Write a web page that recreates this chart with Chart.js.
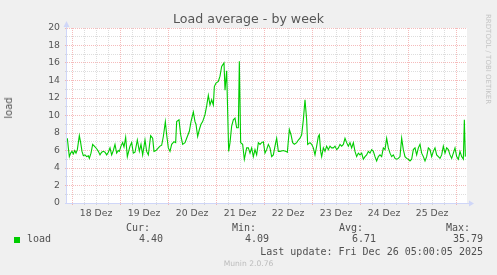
<!DOCTYPE html>
<html><head><meta charset="utf-8">
<script src="https://cdn.jsdelivr.net/npm/chart.js@4"></script>
<style>
html,body{margin:0;padding:0;background:#f0f0f0;}
#wrap{position:relative;width:497px;height:275px;overflow:hidden;background:#f0f0f0;}
canvas{position:absolute;left:0;top:0;}
.m{position:absolute;white-space:pre;font-family:"DejaVu Sans Mono",monospace;font-size:10px;line-height:12px;color:#505050;}
</style></head><body>
<div id="wrap">
<canvas id="c" width="497" height="275"></canvas>
<div style="position:absolute;left:0;width:497px;top:11px;text-align:center;font-family:'DejaVu Sans';font-size:12.6px;line-height:16px;color:#555;">Load average - by week</div>
<div style="position:absolute;left:9px;top:108px;transform:translate(-50%,-50%) rotate(-90deg);font-family:'DejaVu Sans';font-size:10px;line-height:12px;color:#555;white-space:nowrap;">load</div>
<div style="position:absolute;left:483px;top:14px;writing-mode:vertical-rl;font-family:'DejaVu Sans';font-size:7px;line-height:9px;color:#c4c4c4;white-space:nowrap;">RRDTOOL / TOBI OETIKER</div>
<div class="m" style="right:347px;top:222px;">Cur:</div>
<div class="m" style="right:241px;top:222px;">Min:</div>
<div class="m" style="right:134px;top:222px;">Avg:</div>
<div class="m" style="right:27px;top:222px;">Max:</div>
<div style="position:absolute;left:14px;top:237px;width:6px;height:6px;background:#00cc00;"></div>
<div class="m" style="left:27px;top:233px;">load</div>
<div class="m" style="right:334px;top:233px;">4.40</div>
<div class="m" style="right:228px;top:233px;">4.09</div>
<div class="m" style="right:121px;top:233px;">6.71</div>
<div class="m" style="right:14px;top:233px;">35.79</div>
<div class="m" style="right:14px;top:246px;">Last update: Fri Dec 26 05:00:05 2025</div>
<div style="position:absolute;left:0;width:497px;top:259px;text-align:center;font-family:'DejaVu Sans';font-size:7.6px;line-height:10px;color:#bcbcbc;">Munin 2.0.76</div>
</div>
<script>
// hours since 18 Dez 00:00
const hours = [-2.33,-1.83,-1.33,-0.67,0,0.67,1.33,2,2.67,3.67,4.33,5,5.67,6.5,7.33,8.17,8.67,9.5,10.33,11.17,12.33,13.17,14,14.83,15.67,16.5,17.33,18.17,19,19.83,20.67,21.5,22.33,23.17,23.67,24.5,25.33,26,26.83,27.67,28.33,29,29.83,30.67,31.5,32.67,33.67,34.5,35.33,36.5,37.33,38.17,39.33,40.33,41,42,43.17,44,44.83,45.67,46.67,47.33,48.17,49,49.83,51,51.83,52.33,53.5,54.33,55.33,56.5,57.33,58.67,59.5,60.67,61.5,62,62.83,63.67,64.5,65.33,66.5,67.33,68.17,69,69.83,70.67,71.17,72,73.17,74,74.83,76,76.5,77.33,78.33,79,79.83,80.67,81.5,82.33,83.17,83.67,84.33,85.33,86.17,87.33,88.17,89,89.83,90.67,91.5,92.33,93.17,94,94.83,95.67,96.5,97.33,98.17,99,99.83,100.67,101.5,102.33,103.17,104,105.67,107,107.67,108.67,109.5,110.33,111.17,112.33,113.17,114,114.83,115.67,116.5,117.33,117.83,119,119.83,120.67,121.5,122.33,123.17,123.67,124.33,124.83,125.67,126.5,127.33,128.17,129,129.83,130.67,131.5,132.33,133.17,134,134.83,135.67,136.5,137.33,138.17,139,139.83,140.67,141.5,142.33,143.17,144,144.83,145.67,146.5,147.33,148.17,149,149.83,150.67,151.5,152.33,153.17,154,154.83,155.67,156.5,157.33,158.17,159,159.83,160.67,161.5,162.33,163.17,164,164.83,165.67,166.5,167.33,168.17,169,169.83,170.67,171.5,172.33,173.17,174,174.83,175.67,176.5,177.33,178.17,179,179.83,180.67,181.5,182.33,183.17,184,184.83,185.67,186.5,187.33,188.17,189,189.83,190.67,191.5,192.33,193.17,194,194.83,195.67,196.17,196.67];
const load = [7.4,6.3,5.3,5.7,5.9,5.6,6.0,5.7,6.1,7.7,6.9,5.9,5.4,5.5,5.3,5.4,5.1,5.7,6.7,6.5,6.2,5.9,5.5,5.8,5.9,5.8,5.5,5.8,6.3,5.5,6.0,6.7,5.7,6.0,5.9,6.5,6.9,6.4,7.5,5.3,5.9,6.5,6.9,5.7,5.8,7.2,5.9,6.7,5.5,7.2,5.9,5.5,7.7,7.4,5.9,6.0,6.3,6.5,6.6,7.6,9.3,7.8,6.3,5.9,6.7,7.0,6.9,9.3,9.5,7.8,6.7,6.9,7.4,8.2,9.3,10.4,9.3,9.0,7.6,8.4,9.0,9.3,10.1,11.1,12.3,11.2,11.8,11.2,13.3,13.7,13.9,14.5,15.6,16.0,12.9,15.1,5.9,6.9,8.8,9.5,9.7,8.6,8.6,16.2,6.9,6.7,5.0,6.3,6.3,5.7,6.3,5.3,6.1,5.5,6.9,6.7,6.9,7.0,5.7,6.1,6.7,6.3,5.3,5.5,6.5,7.4,5.9,5.9,6.0,5.9,5.8,8.4,7.8,6.9,6.7,6.9,7.2,7.4,7.8,9.5,11.8,9.5,6.7,6.9,6.7,6.3,5.5,6.5,7.6,7.8,5.9,5.3,6.3,5.9,6.5,6.1,6.5,6.3,6.3,6.5,6.1,6.3,6.7,6.5,6.7,7.4,6.9,6.5,6.9,6.3,6.9,5.9,5.3,5.7,5.5,5.7,5.0,5.3,5.5,5.9,5.7,6.1,5.9,5.3,4.8,5.3,5.5,5.3,6.3,6.1,7.4,6.3,5.7,5.3,5.5,5.1,5.0,5.1,5.3,7.4,6.1,5.3,5.1,5.0,4.8,5.0,6.1,6.3,5.5,6.3,6.7,5.7,5.3,4.8,5.3,6.3,6.1,5.3,5.9,6.3,5.5,5.3,5.1,5.5,6.5,5.7,6.3,6.1,5.5,5.1,5.7,6.3,5.3,5.0,5.9,5.3,5.0,9.5,5.3];
const dayLabels = ['18 Dez','19 Dez','20 Dez','21 Dez','22 Dez','23 Dez','24 Dez','25 Dez'];
const yTickValues = [0,1,2,3,4,5,6,7,8,9,10,11,12,13,14,15,16,17,18,19,20];

const MGRID = 'rgba(235,120,120,0.5)';
const GRID = 'rgba(175,175,175,0.42)';
const AXIS = '#cfd6f8';

const bgPlugin = {
  id:'bg',
  beforeDraw(chart){
    const {ctx, chartArea:a} = chart;
    ctx.save(); ctx.fillStyle='#ffffff';
    ctx.fillRect(a.left, a.top, a.right-a.left, a.bottom-a.top);
    ctx.restore();
  },
  afterDraw(chart){
    const {ctx, chartArea:a} = chart;
    ctx.save();
    ctx.strokeStyle = AXIS; ctx.fillStyle = AXIS; ctx.lineWidth = 1;
    ctx.beginPath();
    ctx.moveTo(a.left-0.5, a.bottom+0.5); ctx.lineTo(a.left-0.5, a.top-5);
    ctx.moveTo(a.left-2, a.bottom+0.5); ctx.lineTo(a.right+3, a.bottom+0.5);
    ctx.stroke();
    ctx.beginPath();
    ctx.moveTo(a.left-3.5, a.top-1); ctx.lineTo(a.left+2.5, a.top-1); ctx.lineTo(a.left-0.5, a.top-7); ctx.closePath(); ctx.fill();
    ctx.beginPath();
    ctx.moveTo(a.right+2, a.bottom-2.5); ctx.lineTo(a.right+2, a.bottom+3.5); ctx.lineTo(a.right+7, a.bottom+0.5); ctx.closePath(); ctx.fill();
    ctx.restore();
  }
};

new Chart(document.getElementById('c'), {
  type:'line',
  data:{datasets:[{
    data: hours.map((h,i)=>({x:h, y:load[i]})),
    borderColor:'#00cc00', borderWidth:1.1, pointRadius:0, tension:0, fill:false
  }]},
  options:{
    responsive:false, animation:false,
    layout:{padding:{top:28,right:30,left:0,bottom:0}},
    plugins:{legend:{display:false}, tooltip:{enabled:false}, title:{display:false}},
    scales:{
      x:{
        type:'linear', min:-2.5, max:197.5,
        afterBuildTicks:s=>{ const t=[]; for(let h=0;h<=192;h+=6) t.push({value:h}); s.ticks=t; },
        afterFit:s=>{ s.height = 72; },
        grid:{
          color:c=> (c.tick && c.tick.value%24===0) ? MGRID : GRID,
          borderDash:[1,1], tickLength:2, tickBorderDash:[], drawTicks:true
        },
        border:{display:false, dash:[1,1]},
        ticks:{
          autoSkip:false, maxRotation:0, padding:3, color:'#555',
          font:{family:'DejaVu Sans', size:9.3},
          callback:v=> (v%24===12) ? dayLabels[(v-12)/24] : ''
        }
      },
      y:{
        min:0, max:20,
        afterBuildTicks:s=>{ s.ticks = yTickValues.map(v=>({value:v})); },
        afterFit:s=>{ s.width = 67; },
        grid:{
          color:c=> (c.tick && c.tick.value%2===0) ? MGRID : GRID,
          borderDash:[1,1], tickLength:2, tickBorderDash:[]
        },
        border:{display:false, dash:[1,1]},
        ticks:{
          autoSkip:false, padding:5, color:'#555',
          font:{family:'DejaVu Sans', size:9.3},
          callback:v=> (v%2===0) ? String(v) : ''
        }
      }
    }
  },
  plugins:[bgPlugin]
});
</script>
</body></html>
